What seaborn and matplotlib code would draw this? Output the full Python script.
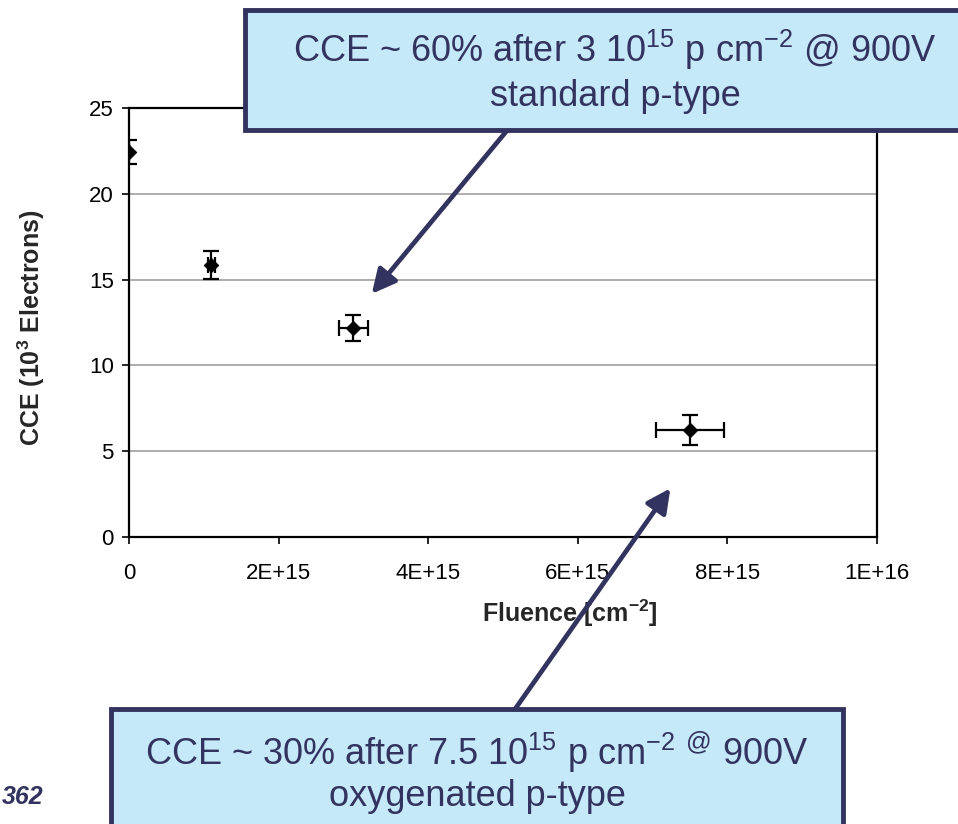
import matplotlib
matplotlib.use("Agg")
import matplotlib.pyplot as plt
import seaborn as sns
import pandas as pd
from matplotlib.patches import Rectangle

fluence = [0.0, 1.1e15, 3.0e15, 7.5e15]
cce = [22.45, 15.85, 12.2, 6.25]
fluence_err = [0.0, 0.05e15, 0.19e15, 0.45e15]
cce_err = [0.7, 0.8, 0.75, 0.87]

x_ticks = [0, 2e15, 4e15, 6e15, 8e15, 1e16]
x_ticklabels = ["0", "2E+15", "4E+15", "6E+15", "8E+15", "1E+16"]
y_ticks = [0, 5, 10, 15, 20, 25]

note_top = ["CCE ~ 60% after 3 10$^{15}$ p cm$^{-2}$ @ 900V", "standard p-type"]
note_bottom = ["CCE ~ 30% after 7.5 10$^{15}$ p cm$^{-2}$ $^{@}$ 900V", "oxygenated p-type"]

navy = "#33335f"
box_fill = "#c6e9f9"

sns.set_theme(style="white")
plt.rcParams["font.family"] = ["Liberation Sans", "DejaVu Sans"]
plt.rcParams["mathtext.fontset"] = "custom"
plt.rcParams["mathtext.rm"] = "Liberation Sans"
plt.rcParams["mathtext.bf"] = "Liberation Sans:bold"

df = pd.DataFrame({"fluence": fluence, "cce": cce})

W, H = 958, 824
fig = plt.figure(figsize=(W / 100, H / 100), dpi=100)
ax = fig.add_axes([129 / W, 1 - 537 / H, (877 - 129) / W, (537 - 108) / H])

ax.errorbar(fluence, cce, xerr=fluence_err, yerr=cce_err, fmt="none",
            ecolor="black", elinewidth=1.6, capsize=6, capthick=1.6, zorder=3)
sns.scatterplot(data=df, x="fluence", y="cce", marker="D", color="black",
                s=55, edgecolor="black", ax=ax, zorder=4, legend=False)

ax.set_xlim(0, 1e16)
ax.set_ylim(0, 25)
ax.set_xticks(x_ticks)
ax.set_xticklabels(x_ticklabels)
ax.set_yticks(y_ticks)
for y in y_ticks[1:-1]:
    ax.axhline(y, color="#a0a0a0", lw=1.2, zorder=1)
for s in ax.spines.values():
    s.set_color("black")
    s.set_linewidth(1.6)
ax.tick_params(axis="both", direction="out", length=5, width=1.2, color="black",
               labelsize=16, labelcolor="black", pad=6, bottom=True, left=True)
ax.tick_params(axis="x", pad=14)

ax.set_xlabel("Fluence [cm$^\\mathbf{-2}$]", fontsize=18, fontweight="bold")
ax.set_ylabel("CCE (10$^\\mathbf{3}$ Electrons)", fontsize=18, fontweight="bold")
ax.xaxis.set_label_coords((570 - 129) / 748, -(598 - 537) / 429)
ax.yaxis.set_label_coords(-(129 - 47) / 748, (537 - 328) / 429)

# annotation boxes in figure pixels
top_box = Rectangle((245, H - 130), 760, 120, transform=None, facecolor=box_fill,
                    edgecolor=navy, lw=3.5, zorder=10)
bot_box = Rectangle((111, H - 830), 732, 121, transform=None, facecolor=box_fill,
                    edgecolor=navy, lw=3.5, zorder=10)
fig.patches.extend([top_box, bot_box])

fig.text(615 / W, 1 - 50 / H, note_top[0], ha="center", va="center",
         fontsize=26, color=navy, zorder=11)
fig.text(615 / W, 1 - 96 / H, note_top[1], ha="center", va="center",
         fontsize=26, color=navy, zorder=11)
fig.text(477 / W, 1 - 752 / H, note_bottom[0], ha="center", va="center",
         fontsize=26, color=navy, zorder=11)
fig.text(477 / W, 1 - 796 / H, note_bottom[1], ha="center", va="center",
         fontsize=26, color=navy, zorder=11)

arrow_style = dict(arrowstyle="-|>,head_length=1.2,head_width=0.6", color=navy, lw=3.4)
ax.annotate("", xy=(370, H - 296), xytext=(519, H - 116), xycoords="figure pixels",
            textcoords="figure pixels", arrowprops=arrow_style, zorder=12)
ax.annotate("", xy=(672, H - 486), xytext=(513, H - 712), xycoords="figure pixels",
            textcoords="figure pixels", arrowprops=arrow_style, zorder=12)

fig.text(2 / W, 1 - 797 / H, "362", ha="left", va="center", fontsize=18,
         fontweight="bold", fontstyle="italic", color=navy)

fig.savefig("out.png", dpi=100)
